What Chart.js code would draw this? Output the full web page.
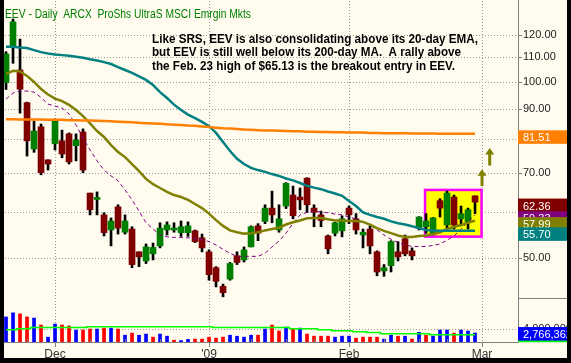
<!DOCTYPE html>
<html>
<head>
<meta charset="utf-8">
<script src="https://cdn.jsdelivr.net/npm/chart.js@4.4.1/dist/chart.umd.min.js"></script>
<style>
  html, body { margin: 0; padding: 0; background: #000; }
  #wrap { position: absolute; left: 4px; top: 0; width: 563px; height: 358px; background: #fffbef; }
</style>
</head>
<body>
<div id="wrap"><canvas id="chart" width="563" height="358"></canvas></div>
<script>
// EEV daily bars, Nov 19 2008 .. Feb 27 2009. Bar 0 = Dec 1 2008.
const firstBar = -7;

const opens  = [99.6, 115.0, 104.7, 92.1, 76.8, 83.8, 73.6, 78.4, 79.3, 81.5, 77.8, 82.1, 64.6, 63.0, 59.3, 55.9, 61.2, 55.4, 56.1, 51.3,
                49.5, 50.9, 52.5, 55.9, 55.9, 55.3, 55.3, 55.7, 54.2, 51.3, 48.2, 44.8, 46.1, 50.5, 49.7, 52.3, 56.8, 57.8, 60.9, 55.9,
                61.4, 64.1, 63.6, 68.5, 60.9, 59.3, 54.6, 55.2, 55.7, 60.9, 58.4, 54.8, 56.1, 51.3, 47.6, 48.6, 51.3, 54.0, 51.5, 56.3,
                56.6, 55.0, 62.7, 57.0, 63.6, 58.4, 57.7, 63.9];
const highs  = [112.5, 127.9, 118.2, 92.3, 85.7, 84.7, 73.6, 86.4, 82.7, 81.8, 81.5, 83.1, 64.6, 64.9, 59.8, 58.6, 61.7, 59.3, 56.6, 51.3,
                52.9, 53.1, 57.5, 57.7, 57.5, 57.9, 57.7, 55.9, 55.0, 51.7, 48.4, 45.2, 49.2, 51.3, 52.3, 56.8, 57.3, 61.7, 65.1, 61.7,
                67.3, 66.4, 65.9, 68.6, 61.7, 60.2, 54.8, 57.6, 59.1, 61.4, 59.6, 56.1, 56.8, 51.5, 48.8, 53.6, 53.4, 54.8, 52.1, 58.9,
                59.6, 58.7, 63.2, 65.13, 64.1, 61.4, 60.9, 63.9];
const lows   = [97.0, 107.5, 88.4, 74.7, 75.8, 69.4, 70.7, 76.5, 74.2, 72.4, 73.3, 70.0, 59.3, 59.3, 54.6, 52.5, 55.0, 55.0, 48.2, 48.4,
                49.0, 49.7, 52.1, 54.8, 55.4, 54.5, 54.5, 53.2, 51.3, 45.9, 44.7, 43.0, 45.9, 48.8, 49.3, 52.3, 53.6, 57.3, 57.5, 55.4,
                60.8, 58.4, 60.5, 59.9, 56.6, 56.6, 50.9, 54.6, 54.4, 57.3, 55.0, 52.1, 50.9, 46.7, 46.6, 47.4, 49.5, 50.5, 49.7, 55.9,
                55.2, 54.8, 58.8, 56.1, 56.1, 56.8, 56.1, 59.6];
const closes = [111.5, 126.5, 97.1, 79.3, 82.4, 70.0, 72.4, 85.7, 75.3, 73.0, 79.6, 70.7, 60.5, 63.5, 55.3, 57.9, 56.3, 57.9, 48.8, 50.3,
                52.3, 52.2, 56.3, 57.0, 56.3, 56.6, 56.8, 53.4, 52.1, 46.9, 45.7, 43.7, 49.0, 49.2, 51.7, 56.6, 55.2, 60.9, 59.3, 58.4,
                67.1, 59.1, 62.9, 61.7, 59.9, 58.0, 51.9, 57.5, 58.4, 59.3, 55.9, 55.4, 52.5, 47.4, 48.2, 53.4, 50.3, 50.9, 50.5, 58.8,
                57.9, 58.6, 60.9, 64.6, 57.0, 59.6, 60.5, 62.36];

// moving averages
const ma200 = [86.3, 86.3, 86.2, 86.2, 86.2, 86.2, 86.1, 86.1, 86.1, 86.0, 86.0, 85.9, 85.9, 85.8, 85.7, 85.6, 85.5, 85.4, 85.3, 85.1,
               85.0, 84.9, 84.8, 84.6, 84.5, 84.4, 84.2, 84.1, 83.9, 83.7, 83.5, 83.3, 83.2, 83.1, 82.9, 82.8, 82.7, 82.6, 82.6, 82.5,
               82.4, 82.3, 82.3, 82.2, 82.2, 82.1, 82.1, 82.0, 82.0, 81.9, 81.9, 81.9, 81.8, 81.8, 81.7, 81.7, 81.7, 81.66, 81.65, 81.63,
               81.61, 81.59, 81.57, 81.56, 81.54, 81.53, 81.52, 81.51];
const ma50  = [114.7, 114.7, 114.4, 114.1, 113.2, 112.3, 111.7, 111.3, 111.0, 110.7, 110.3, 109.9, 109.2, 108.7, 108.0, 107.2, 105.9, 104.7, 103.5, 102.1,
               100.7, 98.7, 96.0, 93.8, 91.4, 89.5, 87.9, 86.7, 85.4, 84.0, 81.8, 78.9, 76.2, 73.9, 72.4, 71.3, 70.7, 70.2, 69.6, 69.1,
               68.4, 67.9, 67.2, 66.5, 66.0, 65.6, 65.0, 64.5, 63.9, 62.6, 61.4, 59.9, 59.3, 58.8, 58.4, 57.8, 57.4, 57.1, 56.7, 56.3,
               55.9, 55.8, 55.7, 55.7, 55.7, 55.7, 55.7, 55.70];
const ema20 = [103.1, 104.4, 104.1, 102.3, 99.9, 97.2, 95.1, 93.6, 92.7, 91.3, 89.5, 87.4, 84.9, 82.4, 80.5, 78.0, 75.9, 74.4, 72.4, 70.4,
               68.3, 66.9, 65.9, 64.9, 64.1, 63.6, 62.9, 61.9, 60.9, 59.6, 58.1, 56.8, 55.8, 55.4, 55.1, 55.2, 55.4, 55.8, 56.1, 56.4,
               57.1, 57.6, 58.0, 58.5, 58.6, 58.6, 58.3, 58.0, 58.0, 57.9, 57.9, 57.7, 57.1, 56.3, 55.7, 55.2, 54.7, 54.4, 54.4, 54.6,
               54.7, 55.0, 55.4, 56.1, 56.6, 57.0, 57.5, 57.99];
const ma10  = [93.4, 95.7, 96.4, 96.4, 96.0, 94.0, 91.6, 90.9, 90.2, 88.1, 84.4, 80.2, 76.5, 73.3, 70.7, 69.1, 67.8, 65.4, 62.9, 60.2,
               57.5, 56.1, 54.8, 54.4, 54.3, 54.3, 54.2, 54.0, 53.8, 53.4, 52.7, 51.8, 51.0, 50.4, 50.4, 50.4, 50.4, 51.0, 52.3, 53.5,
               55.2, 57.4, 59.3, 59.9, 60.2, 60.0, 59.8, 59.5, 59.3, 58.8, 58.4, 57.6, 57.0, 55.9, 54.8, 53.9, 53.2, 52.7, 52.4, 52.4,
               52.4, 52.6, 52.9, 53.7, 54.6, 56.1, 57.7, 59.33];

// volume in millions of shares, and its moving average
const volume = [7.75, 9.0, 8.7, 7.75, 7.4, 5.25, 1.5, 5.55, 5.25, 4.95, 3.7, 3.7, 4.0, 4.0, 4.3, 4.3, 4.0, 2.1, 2.75, 2.1,
                2.45, 1.5, 2.45, 1.8, 0.55, 0.45, 0.8, 0.9, 0.9, 1.5, 1.2, 1.5, 2.1, 1.8, 1.5, 2.1, 2.1, 4.0, 5.25, 3.4,
                4.6, 4.0, 4.3, 2.45, 1.8, 1.8, 1.8, 1.5, 1.8, 1.8, 1.2, 1.5, 1.5, 1.5, 0.9, 2.1, 1.8, 1.8, 0.9, 3.0,
                2.1, 1.8, 3.7, 3.7, 2.75, 3.7, 3.4, 2.766362];
const volAvg = [3.8, 3.8, 4.1, 4.1, 4.45, 4.45, 4.45, 4.45, 4.45, 4.45, 4.45, 4.45, 4.75, 4.75, 4.75, 4.75, 4.75, 4.75, 4.75, 4.75,
                4.75, 4.75, 4.75, 4.75, 4.75, 4.75, 4.75, 4.75, 4.75, 4.75, 4.45, 4.45, 4.45, 4.45, 4.45, 4.45, 4.45, 4.45, 4.45, 4.45,
                4.45, 4.1, 4.1, 4.1, 4.1, 3.8, 3.8, 3.5, 3.5, 3.5, 3.2, 3.2, 2.9, 2.9, 2.55, 2.55, 2.55, 2.55, 2.55, 2.55,
                2.55, 2.25, 2.25, 2.25, 2.25, 2.25, 2.25, 2.25];

// axis ticks
const priceTicks = [50, 60, 70, 80, 90, 100, 110, 120];
const volTicks = [4];
const monthTicks = [0, 22, 42, 61];
const monthLabels = ['Dec', "'09", 'Feb', 'Mar'];
const weekTicks = [-4, 5, 10, 15, 28, 33, 37, 47, 52, 56];

// annotations
const title = 'EEV - Daily  ARCX  ProShs UltraS MSCI Emrgin Mkts';
const note = [
  'Like SRS, EEV is also consolidating above its 20-day EMA,',
  'but EEV is still well below its 200-day MA.  A rally above',
  'the Feb. 23 high of $65.13 is the breakout entry in EEV.'
];
const boxArea = { x0: 52.86, x1: 60.93, top: 65.4, bottom: 54.45 };
const arrows = [{ x: 61.0, top: 70.9, bottom: 66.4 }, { x: 62.1, top: 77.1, bottom: 72.0 }];

const bars = closes.map((_, i) => firstBar + i);
const pts = arr => arr.map((v, i) => ({ x: bars[i], y: v }));
const bodyColors = closes.map((c, i) => c >= opens[i] ? '#008000' : '#800000');
const volColors = closes.map((c, i) => i === 0 || c >= closes[i - 1] ? '#0000ff' : '#ff0000');

const FONT = 'Liberation Sans, Arial, sans-serif';
const gridCol = '#999999', axisCol = '#808080';

const overlay = {
  id: 'overlay',
  beforeDatasetsDraw(chart) {
    const { ctx, chartArea: ca, scales: { x, y, yv } } = chart;
    const L = Math.round(ca.left), R = Math.round(ca.right), T = Math.round(ca.top), B = Math.round(ca.bottom);
    ctx.save();
    // dotted grid: 1px dots every 3px
    ctx.fillStyle = gridCol;
    const hLine = (scale, v) => {
      const py = Math.round(scale.getPixelForValue(v));
      for (let px = L + 1; px < R; px += 3) ctx.fillRect(px, py, 1, 1);
    };
    priceTicks.forEach(v => hLine(y, v));
    volTicks.forEach(v => hLine(yv, v));
    monthTicks.forEach(m => {
      const px = Math.round(x.getPixelForValue(m));
      for (let py = T + 1; py < B; py += 3) ctx.fillRect(px, py, 1, 1);
    });
    // highlighted consolidation box
    const l = x.getPixelForValue(boxArea.x0), r = x.getPixelForValue(boxArea.x1);
    const t = y.getPixelForValue(boxArea.top), b = y.getPixelForValue(boxArea.bottom);
    ctx.fillStyle = '#ffff00';
    ctx.fillRect(l, t, r - l, b - t);
    ctx.strokeStyle = '#ff00ff';
    ctx.lineWidth = 2.5;
    ctx.strokeRect(l, t, r - l, b - t);
    ctx.restore();
  },
  afterDraw(chart) {
    const { ctx, chartArea: ca, scales: { x, y, yv } } = chart;
    const W = chart.width;
    const R = Math.round(ca.right), B = Math.round(ca.bottom);
    ctx.save();

    // tick marks and panel separator
    ctx.fillStyle = axisCol;
    priceTicks.forEach(v => ctx.fillRect(R, Math.round(y.getPixelForValue(v)), 4, 1));
    volTicks.forEach(v => ctx.fillRect(R, Math.round(yv.getPixelForValue(v)), 4, 1));
    monthTicks.forEach(m => ctx.fillRect(Math.round(x.getPixelForValue(m)), B, 1, 5));
    weekTicks.forEach(w => ctx.fillRect(Math.round(x.getPixelForValue(w)), B - 3, 1, 3));
    ctx.fillRect(R, Math.round(y.bottom), W - R, 1);

    // title and comment
    ctx.fillStyle = '#008000';
    ctx.font = '12px ' + FONT;
    ctx.textBaseline = 'alphabetic';
    ctx.fillText(title, ca.left + 1, 18, 246);
    ctx.fillStyle = '#000';
    ctx.font = 'bold 12px ' + FONT;
    const widths = [326, 309, 303];
    note.forEach((s, i) => ctx.fillText(s, ca.left + 148, 42.5 + i * 13.9, widths[i]));

    // arrows
    ctx.fillStyle = '#808000';
    arrows.forEach(a => {
      const cx = x.getPixelForValue(a.x), t = y.getPixelForValue(a.top), b = y.getPixelForValue(a.bottom);
      ctx.beginPath();
      ctx.moveTo(cx, t);
      ctx.lineTo(cx + 4.5, t + 6.5);
      ctx.lineTo(cx + 1.5, t + 6.5);
      ctx.lineTo(cx + 1.5, b);
      ctx.lineTo(cx - 1.5, b);
      ctx.lineTo(cx - 1.5, t + 6.5);
      ctx.lineTo(cx - 4.5, t + 6.5);
      ctx.closePath();
      ctx.fill();
    });

    // value tags on the right axis
    ctx.font = '11px ' + FONT;
    const tag = (py, col, txt) => {
      ctx.fillStyle = col;
      ctx.fillRect(ca.right, py, W - ca.right, 13.5);
      ctx.fillStyle = '#fff';
      ctx.fillText(txt, ca.right + 5, py + 11);
    };
    const last = a => a[a.length - 1];
    [[ma200, '#ff8000'], [closes, '#800000'], [ma10, '#800080'], [ema20, '#808000'], [ma50, '#008080']]
      .forEach(([a, col]) => tag(y.getPixelForValue(last(a)) - 3.5, col, last(a).toFixed(2)));
    ctx.fillStyle = '#00ff00';
    ctx.fillRect(ca.right, yv.getPixelForValue(last(volAvg)) - 6, W - ca.right, 13.5);
    tag(yv.getPixelForValue(last(volume)) - 6, '#0000ff', Math.round(last(volume) * 1e6).toLocaleString('en-US'));
    ctx.restore();
  }
};

const yAxisCommon = {
  position: 'right',
  stack: 'right',
  afterFit: s => { s.width = 49; s.paddingTop = 0; s.paddingBottom = 0; },
  grid: { display: false, drawTicks: true, tickLength: 4 },
  border: { color: axisCol },
};

new Chart(document.getElementById('chart'), {
  type: 'bar',
  data: {
    datasets: [
      { type: 'line', data: pts(ma200), yAxisID: 'y', borderColor: '#ff8000', borderWidth: 2.5, pointRadius: 0, order: 0 },
      { type: 'line', data: pts(ma50), yAxisID: 'y', borderColor: '#008080', borderWidth: 2.5, pointRadius: 0, order: 0 },
      { type: 'line', data: pts(ema20), yAxisID: 'y', borderColor: '#808000', borderWidth: 2.5, pointRadius: 0, order: 0 },
      { type: 'line', data: pts(ma10), yAxisID: 'y', borderColor: '#800080', borderWidth: 1, borderDash: [4, 3], pointRadius: 0, order: 0 },
      { type: 'line', data: pts(volAvg), yAxisID: 'yv', borderColor: '#00ff00', borderWidth: 1.5, stepped: 'middle', pointRadius: 0, order: 0 },
      { data: bars.map((b, i) => ({ x: b, y: [opens[i], closes[i]] })), yAxisID: 'y', backgroundColor: bodyColors,
        barThickness: 6, grouped: false, minBarLength: 1, order: 1 },
      { data: bars.map((b, i) => ({ x: b, y: [lows[i], highs[i]] })), yAxisID: 'y', backgroundColor: '#000',
        barThickness: 2, grouped: false, order: 2 },
      { data: bars.map((b, i) => ({ x: b, y: volume[i] })), yAxisID: 'yv', backgroundColor: volColors,
        barThickness: 3, grouped: false, order: 3 }
    ]
  },
  options: {
    responsive: false,
    animation: false,
    events: [],
    layout: { padding: 0 },
    plugins: { legend: { display: false }, tooltip: { enabled: false } },
    scales: {
      x: {
        type: 'linear', min: -7.29, max: 66.14, offset: false,
        afterBuildTicks: s => { s.ticks = monthTicks.map(v => ({ value: v })); },
        afterFit: s => { s.height = 16; s.paddingLeft = 0; s.paddingRight = 0; },
        grid: { display: false, drawTicks: true, tickLength: 5, offset: false },
        border: { color: axisCol },
        ticks: { autoSkip: false, maxRotation: 0, padding: 0, color: '#333', font: { family: FONT, size: 12 },
                 callback: (v, i) => monthLabels[i] }
      },
      y: Object.assign({}, yAxisCommon, {
        type: 'logarithmic', stackWeight: 298, min: 42.8, max: 137.8,
        afterBuildTicks: s => { s.ticks = priceTicks.map(v => ({ value: v })); },
        ticks: { color: '#222', padding: 1, font: { family: FONT, size: 11 }, callback: v => Number(v).toFixed(2) }
      }),
      yv: Object.assign({}, yAxisCommon, {
        type: 'linear', stackWeight: 44, min: 0, max: 13.6,
        afterBuildTicks: s => { s.ticks = volTicks.map(v => ({ value: v })); },
        ticks: { color: '#222', padding: 1, font: { family: FONT, size: 11 }, callback: v => Math.round(v * 1e6).toLocaleString('en-US') }
      })
    }
  },
  plugins: [overlay]
});
</script>
</body>
</html>
